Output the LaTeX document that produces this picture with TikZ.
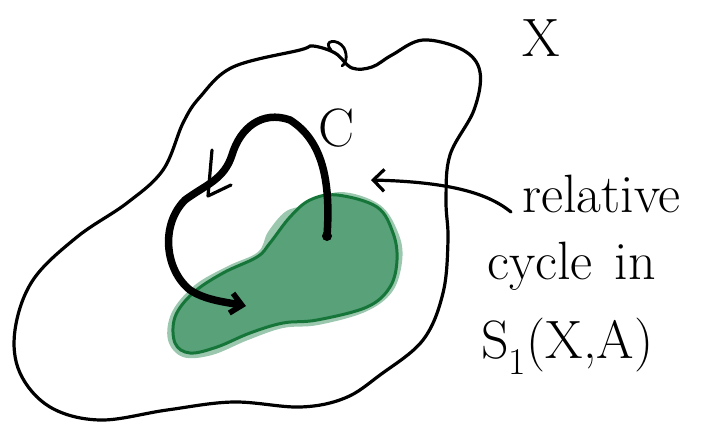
\documentclass[tikz,border=0pt]{standalone}
\usepackage{xcolor}
\usepackage{tikz}
\usetikzlibrary{arrows.meta, positioning}

\definecolor{blobfill}{RGB}{88,161,121}
\definecolor{blobhalo}{RGB}{120,180,145}
\definecolor{blobedge}{RGB}{22,118,58}

\begin{document}
\begin{tikzpicture}[
    x=1pt, y=-1pt,
    outline/.style={draw, line width=3.2pt, line cap=round, line join=round},
    blob/.style={draw=blobedge, fill=blobfill, line width=3pt},
    halo/.style={fill=blobhalo, opacity=0.75},
    cycle/.style={line width=7.5pt, line cap=round, -{Straight Barb[length=11pt, width=20pt, line width=5.5pt]}},
    pointer/.style={line width=3.2pt, line cap=round, -{Straight Barb[length=11pt, width=22pt]}},
    hand/.style={font=\fontsize{54}{60}\selectfont, inner sep=0pt}
]
\useasboundingbox (0,0) rectangle (709,424);

% the space X
\draw[outline] plot[smooth cycle, tension=0.6] coordinates {
    (300,50) (233,67) (200,97) (183,123) (163,170) (127,203) (77,237) (33,280)
    (15,330) (20,373) (50,407) (100,420) (167,410) (233,402) (300,407)
    (345,398) (380,375) (423,340) (443,293) (448,240) (446,200)
    (450,155) (474,110) (480,72) (463,50) (423,40) (392,55)
    (372,67) (352,68) (335,53) (313,46)};
\draw[line width=2.8pt, line cap=round] (331,50) .. controls (322,40) and (338,38) .. (344,48)
    .. controls (348,56) and (346,64) .. (342,66);

% the subspace A
\fill[halo] plot[smooth cycle, tension=0.6] coordinates {
    (305,205) (340,192) (380,205) (399,235) (402,262) (392,292)
    (365,312) (318,325) (283,328) (248,340) (212,355) (183,357)
    (168,340) (172,312) (195,285) (228,266) (258,252) (268,232) (285,212)};
\filldraw[blob] plot[smooth cycle, tension=0.6] coordinates {
    (310,200) (337,195) (377,207) (393,233) (397,260) (390,287)
    (367,307) (317,320) (283,323) (250,333) (217,347) (190,353)
    (175,343) (175,317) (193,293) (223,273) (257,257) (270,243) (290,217)};

% the relative cycle c
\coordinate (start) at (327,236);
\coordinate (finish) at (246,306);
\fill (start) circle (5pt);
\draw[cycle] (start) .. controls (331,180) and (322,140) .. (290,120)
    .. controls (262,110) and (240,128) .. (232,155)
    .. controls (224,180) and (205,185) .. (185,200)
    .. controls (160,225) and (165,270) .. (190,290)
    .. controls (205,300) and (225,302) .. (finish);
\coordinate (tipA) at (212,150);
\coordinate (tipB) at (208,196);
\coordinate (tipC) at (231,185);
\draw[line width=3.2pt, line cap=round, line join=round] (tipA) -- (tipB) -- (tipC);

% labels
\node[hand] (xlabel) at (541,38) {X};
\node[hand] (clabel) at (337,128) {C};
\node[hand, anchor=base west] (rel) at (522,212) {relative};
\node[hand, anchor=base west] (cyc) at (487,279) {cycle\hspace{22pt}in};
\node[hand, anchor=base west] (chain) at (481,358) {S\textsubscript{1}(X,A)};

\coordinate (tail) at (511,212);
\coordinate (head) at (371,180);
\draw[pointer] (tail) .. controls (490,195) and (455,182) .. (head);

\end{tikzpicture}
\end{document}
